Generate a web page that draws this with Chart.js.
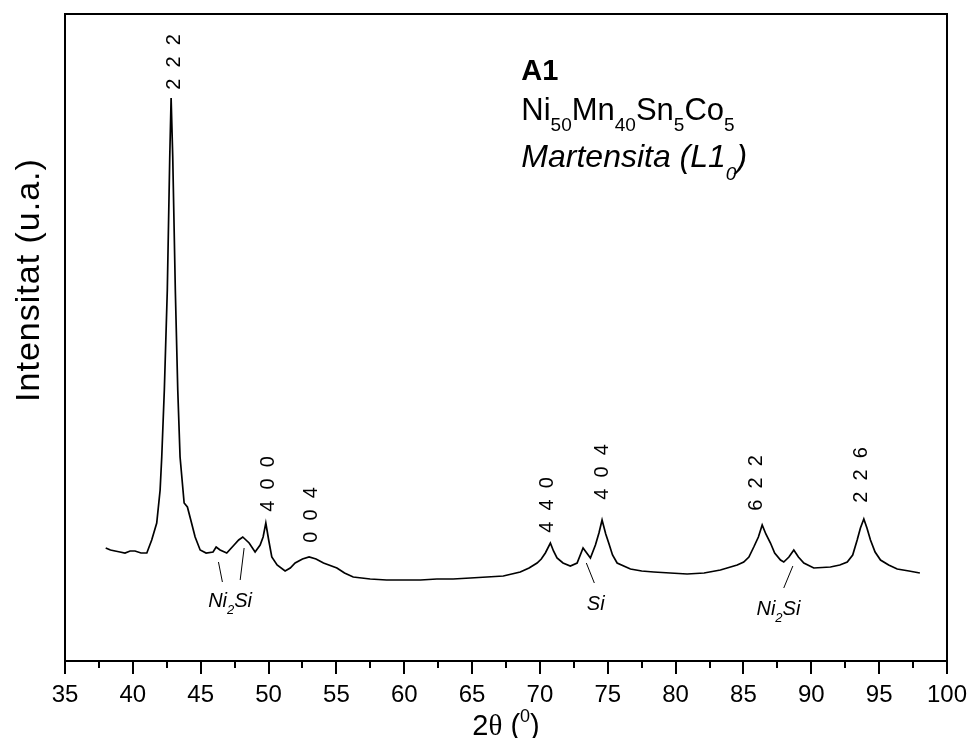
<!DOCTYPE html>
<html>
<head>
<meta charset="utf-8">
<script src="https://cdn.jsdelivr.net/npm/chart.js@4.4.0/dist/chart.umd.min.js"></script>
<style>
  body { margin: 0; background: #fff; }
</style>
</head>
<body>
<canvas id="xrd" width="971" height="738"></canvas>
<script>
// 2theta (deg) and intensity (arb. units)
const twoTheta = [38.00, 38.35, 38.69, 39.05, 39.42, 39.80, 40.16, 40.60, 41.03, 41.39, 41.76, 42.01, 42.13, 42.32,
  42.54, 42.72, 42.82, 42.94, 43.13, 43.31, 43.48, 43.78, 44.02, 44.27, 44.59, 44.96, 45.40, 45.91, 46.14,
  46.43, 46.92, 47.46, 47.80, 48.10, 48.57, 49.01, 49.38, 49.60, 49.80, 50.01, 50.24, 50.63, 51.22, 51.60,
  51.96, 52.50, 52.99, 53.50, 54.05, 55.04, 55.60, 56.24, 57.49, 58.70, 59.93, 61.20, 62.41, 63.60, 64.87,
  66.10, 67.30, 68.55, 69.20, 69.79, 70.10, 70.40, 70.77, 71.00, 71.26, 71.70, 72.24, 72.74, 73.18, 73.45,
  73.72, 74.09, 74.35, 74.58, 74.85, 75.07, 75.35, 75.69, 76.67, 77.50, 78.39, 79.60, 80.85, 82.10, 83.30,
  84.54, 85.02, 85.40, 85.76, 86.10, 86.38, 86.65, 86.99, 87.30, 87.73, 87.97, 88.35, 88.71, 89.05, 89.45,
  90.18, 91.41, 92.10, 92.65, 93.05, 93.38, 93.62, 93.87, 94.10, 94.36, 94.70, 95.10, 95.70, 96.33, 97.20,
  98.00];
const intensity = [113, 111, 110, 109, 108, 110, 110, 108, 108, 121, 138, 171, 204, 271,
  371, 504, 563, 504, 371, 271, 204, 158, 154, 141, 124, 111, 108, 109, 114,
  111, 108, 116, 121, 124, 118, 109, 116, 124, 138, 121, 104, 96, 90, 93,
  98, 102, 104, 102, 98, 93, 88, 84, 82, 81, 81, 81, 82, 82, 83,
  84, 85, 89, 93, 98, 102, 108, 118, 110, 103, 98, 95, 98, 113, 108,
  103, 116, 128, 141, 127, 118, 106, 98, 92, 90, 89, 88, 87, 88, 91,
  96, 99, 104, 114, 124, 136, 127, 118, 108, 101, 99, 104, 111, 104, 98,
  93, 94, 96, 99, 106, 121, 133, 142, 133, 121, 109, 101, 96, 92, 90,
  88];

const xTickValues = [35, 40, 45, 50, 55, 60, 65, 70, 75, 80, 85, 90, 95, 100];
const xMinorTicks = [37.5, 42.5, 47.5, 52.5, 57.5, 62.5, 67.5, 72.5, 77.5, 82.5, 87.5, 92.5, 97.5];

// reflection indices written over the peaks
const peakLabels = ['2  2  2', '4  0  0', '0  0  4', '4  4  0', '4  0  4', '6  2  2', '2  2  6'];
const peakLabelX = [43.0, 49.93, 53.1, 70.5, 74.56, 85.92, 93.66];
const peakLabelY = [599, 177, 146, 156, 189, 178, 186];

// secondary phases
const phaseLabels = ['Ni2Si', 'Si', 'Ni2Si'];
const phaseLabelX = [45.55, 73.46, 85.96];
const phaseLabelY = [54, 51, 46];
const leaderLines = [
  [46.31, 99, 46.60, 79],
  [48.20, 113, 47.91, 81],
  [73.42, 98, 74.01, 78],
  [88.64, 95, 87.97, 73]
];

const SANS = '"Liberation Sans", Arial, sans-serif';

function drawRuns(ctx, x, y, runs) {
  runs.forEach(function (r) {
    ctx.font = r.font;
    ctx.fillText(r.t, x, y + (r.dy || 0));
    x += ctx.measureText(r.t).width;
  });
}

const xrdDecor = {
  id: 'xrdDecor',
  afterDraw(chart) {
    const { ctx, chartArea: a, scales: { x, y } } = chart;
    ctx.save();
    ctx.strokeStyle = '#000';
    ctx.fillStyle = '#000';

    // frame
    ctx.lineWidth = 2;
    ctx.strokeRect(a.left, a.top, a.right - a.left, a.bottom - a.top);

    // ticks on x axis, pointing out
    ctx.beginPath();
    xTickValues.forEach(function (v) {
      const px = Math.round(x.getPixelForValue(v));
      ctx.moveTo(px, a.bottom);
      ctx.lineTo(px, a.bottom + 13);
    });
    xMinorTicks.forEach(function (v) {
      const px = Math.round(x.getPixelForValue(v));
      ctx.moveTo(px, a.bottom);
      ctx.lineTo(px, a.bottom + 7);
    });
    ctx.stroke();

    // peak indices, rotated
    ctx.font = '20px ' + SANS;
    ctx.textAlign = 'center';
    ctx.textBaseline = 'middle';
    peakLabels.forEach(function (t, i) {
      ctx.save();
      ctx.translate(x.getPixelForValue(peakLabelX[i]), y.getPixelForValue(peakLabelY[i]));
      ctx.rotate(-Math.PI / 2);
      ctx.fillText(t, 0, 1);
      ctx.restore();
    });

    // leader lines
    ctx.lineWidth = 1;
    ctx.beginPath();
    leaderLines.forEach(function (l) {
      ctx.moveTo(x.getPixelForValue(l[0]), y.getPixelForValue(l[1]));
      ctx.lineTo(x.getPixelForValue(l[2]), y.getPixelForValue(l[3]));
    });
    ctx.stroke();

    // phase labels
    ctx.textAlign = 'left';
    ctx.textBaseline = 'alphabetic';
    phaseLabels.forEach(function (t, i) {
      const px = x.getPixelForValue(phaseLabelX[i]);
      const py = y.getPixelForValue(phaseLabelY[i]);
      if (t === 'Ni2Si') {
        drawRuns(ctx, px, py, [
          { t: 'Ni', font: 'italic 20px ' + SANS },
          { t: '2', font: 'italic 13px ' + SANS, dy: 7 },
          { t: 'Si', font: 'italic 20px ' + SANS }
        ]);
      } else {
        drawRuns(ctx, px, py, [{ t: t, font: 'italic 20px ' + SANS }]);
      }
    });

    // sample block
    const bx = x.getPixelForValue(68.63);
    ctx.font = 'bold 29px ' + SANS;
    ctx.fillText('A1', bx, y.getPixelForValue(581));
    drawRuns(ctx, bx, y.getPixelForValue(541), [
      { t: 'Ni', font: '31px ' + SANS },
      { t: '50', font: '19px ' + SANS, dy: 11 },
      { t: 'Mn', font: '31px ' + SANS },
      { t: '40', font: '19px ' + SANS, dy: 11 },
      { t: 'Sn', font: '31px ' + SANS },
      { t: '5', font: '19px ' + SANS, dy: 11 },
      { t: 'Co', font: '31px ' + SANS },
      { t: '5', font: '19px ' + SANS, dy: 11 }
    ]);
    drawRuns(ctx, bx, y.getPixelForValue(494), [
      { t: 'Martensita (L1', font: 'italic 32px ' + SANS },
      { t: '0', font: 'italic 19px ' + SANS, dy: 13 },
      { t: ')', font: 'italic 32px ' + SANS }
    ]);

    // x title: 2θ (⁰)
    const xTitle = [
      { t: '2', font: '29px ' + SANS },
      { t: 'θ', font: '29px "Liberation Serif", serif' },
      { t: ' (', font: '29px ' + SANS },
      { t: '0', font: '18px ' + SANS, dy: -13 },
      { t: ')', font: '29px ' + SANS }
    ];
    let w = 0;
    xTitle.forEach(function (r) { ctx.font = r.font; w += ctx.measureText(r.t).width; });
    drawRuns(ctx, (a.left + a.right) / 2 - w / 2, 735, xTitle);

    // y title
    ctx.save();
    ctx.translate(30, 280);
    ctx.rotate(-Math.PI / 2);
    ctx.textAlign = 'center';
    ctx.textBaseline = 'middle';
    ctx.font = '34px ' + SANS;
    ctx.letterSpacing = '1px';
    ctx.fillText('Intensitat (u.a.)', 0, 0);
    ctx.restore();

    ctx.restore();
  }
};

new Chart(document.getElementById('xrd'), {
  type: 'line',
  data: {
    datasets: [{
      data: twoTheta.map((t, i) => ({ x: t, y: intensity[i] })),
      borderColor: '#000',
      borderWidth: 1.7,
      pointRadius: 0,
      tension: 0,
      fill: false
    }]
  },
  options: {
    responsive: false,
    animation: false,
    devicePixelRatio: 1,
    layout: { padding: { top: 14, right: 24, left: 0, bottom: 0 } },
    plugins: { legend: { display: false }, tooltip: { enabled: false } },
    scales: {
      x: {
        type: 'linear',
        min: 35,
        max: 100,
        afterBuildTicks: function (scale) { scale.ticks = xTickValues.map(v => ({ value: v })); },
        afterFit: function (scale) {
          scale.height = 77;
          scale.paddingLeft = 0;
          scale.paddingRight = 0;
        },
        grid: { display: false, drawTicks: false },
        border: { display: false },
        ticks: { color: '#000', font: { family: SANS, size: 24 }, padding: 20, maxRotation: 0, autoSkip: false }
      },
      y: {
        min: 0,
        max: 647,
        afterFit: function (scale) { scale.width = 65; },
        grid: { display: false, drawTicks: false },
        border: { display: false },
        ticks: { display: false }
      }
    }
  },
  plugins: [xrdDecor]
});
</script>
</body>
</html>
